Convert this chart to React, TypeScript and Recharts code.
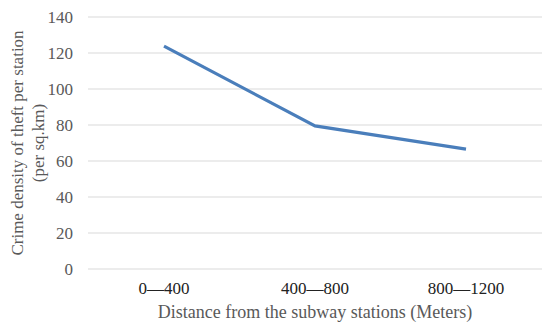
import { LineChart, Line, XAxis, YAxis, CartesianGrid } from "recharts";

const categories = ["0—400", "400—800", "800—1200"];
const theftDensity = [123.8, 79.5, 66.6];
const yTicks = [0, 20, 40, 60, 80, 100, 120, 140];

const data = categories.map((name, i) => ({ name, value: theftDensity[i] }));

const FONT = "Liberation Serif, Times New Roman, serif";
const TEXT = "#595959";

function YTitle(props: any) {
  const vb = props.viewBox || {};
  const cy = vb.y + vb.height / 2;
  return (
    <g style={{ fontFamily: FONT }}>
      <text
        x={17}
        y={cy}
        transform={`rotate(-90, 17, ${cy})`}
        textAnchor="middle"
        dominantBaseline="central"
        style={{ fontFamily: FONT, fontSize: 17 }}
        fill={TEXT}
      >
        Crime density of theft per station
      </text>
      <text
        x={38}
        y={cy}
        transform={`rotate(-90, 38, ${cy})`}
        textAnchor="middle"
        dominantBaseline="central"
        style={{ fontFamily: FONT, fontSize: 17 }}
        fill={TEXT}
      >
        (per sq.km)
      </text>
    </g>
  );
}

export default function App() {
  return (
    <div style={{ position: "absolute", left: 0, top: 0, background: "#fff", fontFamily: FONT }}>
      <LineChart
        width={550}
        height={326}
        data={data}
        margin={{ top: 17, right: 8, left: 0, bottom: 0 }}
        style={{ fontFamily: FONT }}
      >
        <CartesianGrid vertical={false} stroke="#d9d9d9" strokeWidth={1} />
        <XAxis
          dataKey="name"
          height={57}
          axisLine={false}
          tickLine={false}
          tickSize={0}
          tickMargin={13}
          padding={{ left: 76, right: 76 }}
          tick={{ fontSize: 17, fill: "#222", style: { fontFamily: FONT } }}
          label={{
            value: "Distance from the subway stations (Meters)",
            position: "insideBottom",
            offset: 8,
            style: { fontSize: 18, fill: TEXT, fontFamily: FONT },
          }}
        />
        <YAxis
          width={88}
          domain={[0, 140]}
          ticks={yTicks}
          axisLine={false}
          tickLine={false}
          tickSize={0}
          tickMargin={15}
          tick={{ fontSize: 17, fill: TEXT, style: { fontFamily: FONT } }}
          label={<YTitle />}
        />
        <Line
          type="linear"
          dataKey="value"
          stroke="#4a7ebb"
          strokeWidth={3.2}
          dot={false}
          isAnimationActive={false}
        />
      </LineChart>
    </div>
  );
}
